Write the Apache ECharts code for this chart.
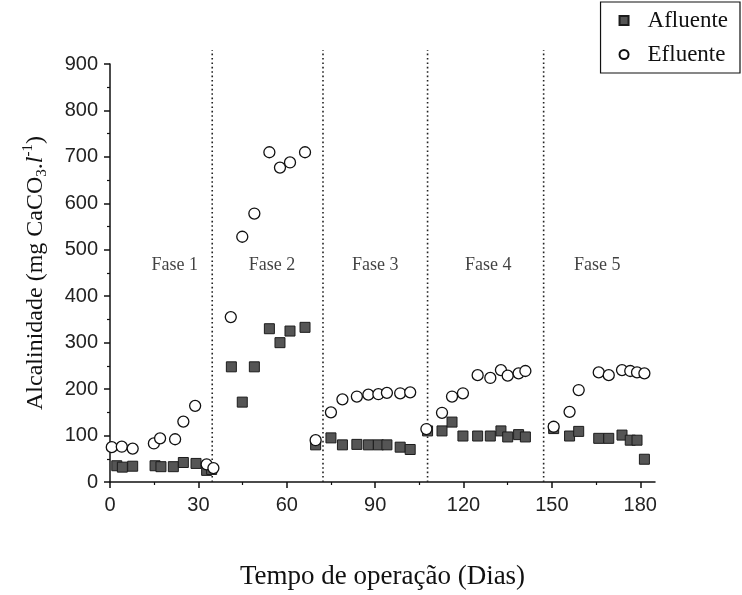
<!DOCTYPE html>
<html>
<head>
<meta charset="utf-8">
<script src="https://cdn.jsdelivr.net/npm/echarts@6/dist/echarts.min.js"></script>
<style>
html,body{margin:0;padding:0;background:#fff;}
#chart{width:742px;height:595px;}
</style>
</head>
<body>
<div id="chart"></div>
<script>
// ---- data ----
const afluenteDias = [2.3,4.2,7.7,15.3,17.3,21.5,24.9,29.2,32.8,34.5,
  41.2,44.9,49.0,54.1,57.7,61.1,66.2,69.8,
  75.0,78.9,83.8,87.7,91.1,94.0,98.5,101.9,
  107.8,112.7,116.1,119.8,124.8,129.1,132.7,135.0,138.7,141.0,
  150.6,156.0,159.1,165.9,169.3,173.8,176.6,178.9,181.4];
const afluenteVals = [35,32,34,35,33,33,42,40,25,27,
  248,172,248,330,300,325,333,80,
  95,80,81,80,80,80,75,70,
  110,110,129,99,99,99,110,97,102,97,
  115,99,109,94,94,101,90,90,49];
const efluenteDias = [0.6,4.0,7.7,14.9,17.0,22.1,24.9,28.9,32.8,35.1,
  41.0,44.9,49.0,54.1,57.7,61.1,66.2,69.8,
  75.0,78.9,83.8,87.7,91.1,94.0,98.5,101.9,
  107.4,112.7,116.1,119.8,124.8,129.1,132.7,135.0,138.7,141.0,
  150.6,156.0,159.1,165.9,169.3,173.8,176.6,178.9,181.4];
const efluenteVals = [75,76,72,83,94,92,130,164,38,30,
  355,528,578,710,677,688,710,90,
  150,178,184,188,189,192,191,193,
  114,149,184,191,230,224,241,229,234,239,
  119,151,198,236,230,241,239,236,234];
const faseLinhas = [34.7,72.3,107.8,147.2];
const faseLinhaTopo = 930;
const faseNomes = ['Fase 1','Fase 2','Fase 3','Fase 4','Fase 5'];
const faseX = [22,55,90,128.4,165.4];
const faseY = [467,467,467,467,467];
const xTicks = [0,30,60,90,120,150,180];
const xMinorTicks = [15,45,75,105,135,165];
const yTicks = [0,100,200,300,400,500,600,700,800,900];

// ---- chart ----
const chart = echarts.init(document.getElementById('chart'), null, {renderer:'canvas'});
const serif = 'Liberation Serif';
const sans = 'Liberation Sans';

const zip = (a,b)=>a.map((v,i)=>[v,b[i]]);

const lineSeries = faseLinhas.map(d=>({
  type:'line', data:[[d,0],[d,faseLinhaTopo]], symbol:'none', clip:false,
  silent:true, lineStyle:{color:'#222', width:1.6, type:[1.6,2.8]}, z:1
}));

const option = {
  animation:false,
  backgroundColor:'#fff',
  grid:{left:110, right:87, top:64, bottom:113},
  legend:{
    orient:'vertical', right:2, top:2,
    data:[{name:'Afluente', icon:'rect'},{name:'Efluente', icon:'circle'}],
    itemWidth:9, itemHeight:9, itemGap:11,
    padding:[7,12,7,18],
    borderColor:'#111', borderWidth:1.2,
    textStyle:{fontFamily:serif, fontSize:23, color:'#111', padding:[0,0,0,14]}
  },
  xAxis:[{
    type:'value', min:0, max:185,
    axisLine:{show:true, lineStyle:{color:'#111', width:1.5}},
    axisTick:{show:true, inside:false, length:6, customValues:xTicks, lineStyle:{color:'#111', width:1.5}},
    axisLabel:{customValues:xTicks, margin:13, fontFamily:sans, fontSize:20, color:'#222'},
    splitLine:{show:false},
    name:'Tempo de operação (Dias)', nameLocation:'middle', nameGap:81,
    nameTextStyle:{fontFamily:serif, fontSize:27, color:'#111'}
  },{
    type:'value', min:0, max:185, position:'bottom',
    axisLine:{show:false},
    axisTick:{show:true, length:3, customValues:xMinorTicks, lineStyle:{color:'#111', width:1.2}},
    axisLabel:{show:false}, splitLine:{show:false}
  }],
  yAxis:{
    type:'value', min:0, max:900, interval:100,
    axisLine:{show:true, lineStyle:{color:'#111', width:1.5}},
    axisTick:{show:true, length:6, lineStyle:{color:'#111', width:1.5}},
    minorTick:{show:true, splitNumber:2, length:3, lineStyle:{color:'#111', width:1.2}},
    axisLabel:{margin:12, fontFamily:sans, fontSize:20, color:'#222'},
    splitLine:{show:false},
    name:'{a|Alcalinidade (mg CaCO}{b|3}{a|.}{c|l}{d|-1}{a|)}',
    nameLocation:'middle', nameGap:60,
    nameTextStyle:{
      fontFamily:serif, fontSize:24, color:'#111',
      rich:{
        a:{fontFamily:serif, fontSize:24, color:'#111', lineHeight:29, verticalAlign:'middle'},
        b:{fontFamily:serif, fontSize:15, color:'#111', lineHeight:29, verticalAlign:'bottom'},
        c:{fontFamily:serif, fontSize:24, color:'#111', fontStyle:'italic', lineHeight:29, verticalAlign:'middle'},
        d:{fontFamily:serif, fontSize:15, color:'#111', lineHeight:29, verticalAlign:'top'}
      }
    }
  },
  series:[
    ...lineSeries,
    {
      name:'Fases', type:'scatter', symbolSize:0, silent:true,
      data:faseX.map((x,i)=>({value:[x,faseY[i]], name:faseNomes[i]})),
      label:{show:true, position:'inside', formatter:p=>p.name, fontFamily:serif, fontSize:18, color:'#111'}
    },
    {
      name:'Afluente', type:'scatter', symbol:'rect', symbolSize:10,
      data:zip(afluenteDias, afluenteVals),
      itemStyle:{color:'#555', borderColor:'#1c1c1c', borderWidth:1, opacity:1}, z:3
    },
    {
      name:'Efluente', type:'scatter', symbol:'circle', symbolSize:11,
      data:zip(efluenteDias, efluenteVals),
      itemStyle:{color:'#fff', borderColor:'#111', borderWidth:1.3, opacity:1}, z:4
    }
  ]
};
chart.setOption(option);
</script>
</body>
</html>
